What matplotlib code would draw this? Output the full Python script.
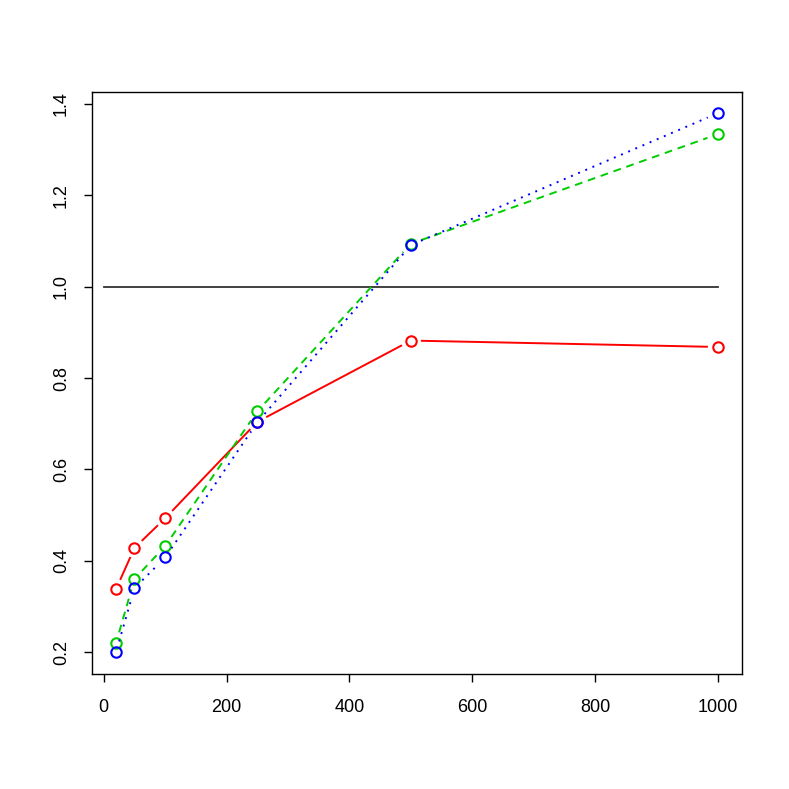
"""
Ratio curves for three settings against sample size, drawn in the style of an R base plot.
"""
import numpy as np
import matplotlib
matplotlib.use("Agg")
import matplotlib.pyplot as plt

# data
sizes = [20, 50, 100, 250, 500, 1000]
red_vals = [0.338, 0.428, 0.493, 0.704, 0.882, 0.868]
green_vals = [0.220, 0.360, 0.432, 0.727, 1.094, 1.334]
blue_vals = [0.200, 0.340, 0.407, 0.703, 1.091, 1.380]
ref_x = [0, 1000]
ref_y = [1.0, 1.0]

x_ticks = [0, 200, 400, 600, 800, 1000]
y_ticks = [0.2, 0.4, 0.6, 0.8, 1.0, 1.2, 1.4]

plt.rcParams['font.family'] = ['Liberation Sans', 'DejaVu Sans']

fig = plt.figure(figsize=(7.89, 7.89), dpi=100)
ax = fig.add_axes([0.1166, 0.1463, 0.8238, 0.7376])

# R style 4% padding around the plotted data
lo_x, hi_x = min(sizes), max(sizes)
lo_y, hi_y = min(blue_vals), max(blue_vals)
pad_x = 0.04 * (hi_x - lo_x)
pad_y = 0.04 * (hi_y - lo_y)
ax.set_xlim(lo_x - pad_x, hi_x + pad_x)
ax.set_ylim(lo_y - pad_y, hi_y + pad_y)

ax.plot(ref_x, ref_y, color='#333333', lw=1.3)


def gapped(ax, xs, ys, color, ls, gap_px=11):
    """Draw type='b' lines: segments stop short of each point."""
    fig.canvas.draw()
    trans = ax.transData
    inv = trans.inverted()
    pts = trans.transform(np.column_stack([xs, ys]))
    for p0, p1 in zip(pts[:-1], pts[1:]):
        d = p1 - p0
        n = np.hypot(*d)
        if n <= 2 * gap_px:
            continue
        u = d / n
        a = inv.transform(p0 + u * gap_px)
        b = inv.transform(p1 - u * gap_px)
        ax.plot([a[0], b[0]], [a[1], b[1]], color=color, ls=ls, lw=1.4)
    ax.plot(xs, ys, ls='none', marker='o', ms=7.5, mfc='none', mec=color, mew=1.5)


gapped(ax, sizes, red_vals, '#FF0000', '-')
gapped(ax, sizes, green_vals, '#00CD00', (0, (4, 3)))
gapped(ax, sizes, blue_vals, '#0000FF', (0, (1, 3)))

ax.set_xticks(x_ticks)
ax.set_yticks(y_ticks)
ax.set_yticklabels([f"{v:.1f}" for v in y_ticks], rotation=90, va='center')
ax.tick_params(direction='out', length=6, width=1, labelsize=13)
ax.tick_params(axis='x', pad=12)
ax.tick_params(axis='y', pad=10)
for s in ax.spines.values():
    s.set_linewidth(1)

fig.savefig('out.png', dpi=100)
